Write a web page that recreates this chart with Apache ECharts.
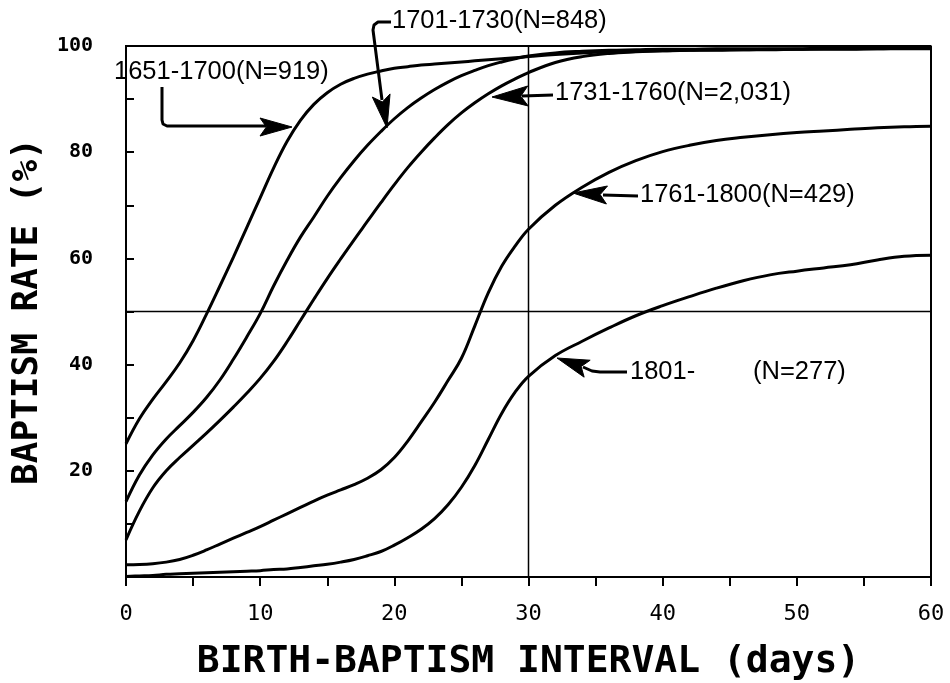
<!DOCTYPE html>
<html>
<head>
<meta charset="utf-8">
<script src="https://cdn.jsdelivr.net/npm/echarts@6/dist/echarts.min.js"></script>
<style>
html,body{margin:0;padding:0;background:#fff;}
#chart{width:950px;height:683px;}
</style>
</head>
<body>
<div id="chart"></div>
<script>
// ---- data ----
var days = [0,1,2,3,4,5,6,7,8,9,10,11,12,13,14,15,16,17,18,19,20,21,22,23,24,25,26,27,28,29,30,32,34,36,38,40,42,44,46,48,50,52,54,56,58,60];
var p1651_1700 = [25.1,29.8,33.5,36.8,40.3,44.5,49.5,54.8,60.2,65.8,71.4,77.0,82.0,86.0,89.0,91.2,92.8,93.9,94.7,95.3,95.8,96.1,96.4,96.6,96.8,97.0,97.2,97.4,97.6,97.8,98.0,98.4,98.7,98.9,99.0,99.1,99.2,99.2,99.3,99.3,99.4,99.4,99.4,99.5,99.5,99.5];
var p1701_1730 = [14.2,19.2,23.0,26.0,28.5,31.0,33.8,37.1,41.0,45.2,49.6,54.8,59.6,64.0,67.8,71.7,75.2,78.4,81.3,83.9,86.3,88.4,90.2,91.8,93.2,94.4,95.4,96.3,97.0,97.6,98.1,98.7,99.0,99.2,99.3,99.4,99.4,99.5,99.5,99.5,99.5,99.6,99.6,99.6,99.6,99.6];
var p1731_1760 = [7.0,12.4,16.8,20.0,22.5,24.8,27.1,29.5,32.0,34.6,37.4,40.6,44.3,48.3,52.3,56.2,59.9,63.5,67.0,70.5,73.9,77.1,80.0,82.7,85.2,87.4,89.3,91.0,92.5,93.8,95.0,96.9,98.0,98.6,98.9,99.1,99.2,99.3,99.3,99.4,99.4,99.5,99.5,99.5,99.6,99.6];
var p1761_1800 = [2.3,2.35,2.5,2.8,3.3,4.1,5.1,6.2,7.3,8.4,9.5,10.7,11.9,13.1,14.3,15.4,16.4,17.4,18.6,20.2,22.5,25.6,29.2,32.9,37.0,41.2,47.3,53.5,58.5,62.3,65.5,70.0,73.4,76.2,78.4,80.1,81.3,82.2,82.8,83.3,83.7,84.0,84.3,84.6,84.8,84.9];
var p1801 = [0.1,0.2,0.3,0.5,0.6,0.7,0.8,0.9,1.0,1.1,1.2,1.4,1.5,1.8,2.1,2.4,2.8,3.3,4.0,4.8,6.0,7.4,9.0,11.0,13.6,16.9,21.0,25.9,30.8,34.8,37.8,41.7,44.4,46.9,49.2,51.1,52.8,54.4,55.8,56.9,57.6,58.2,58.8,59.7,60.4,60.6];
var xTicks = [0,10,20,30,40,50,60];
var yTicks = [20,40,60,80,100];
var xTitle = 'BIRTH-BAPTISM INTERVAL (days)';
var yTitle = 'BAPTISM RATE (%)';

function pairs(xs, ys){ return xs.map(function(x,i){ return [x, ys[i]]; }); }

var chart = echarts.init(document.getElementById('chart'), null, {renderer:'canvas'});

var curveStyle = {color:'#000', width:3};
function curve(name, vals){
  return {name:name, type:'line', data:pairs(days, vals), smooth:0.4,
          symbol:'none', lineStyle:curveStyle, z:5, silent:true};
}
function frame(data, w){
  return {type:'line', data:data, symbol:'none', clip:false, silent:true,
          lineStyle:{color:'#000', width:w}, z:3};
}

var monoFont = '"DejaVu Sans Mono", "Liberation Mono", monospace';

var option = {
  backgroundColor:'#fff',
  animation:false,
  grid:{left:126, right:19, top:46, bottom:106, containLabel:false, outerBoundsMode:'none'},
  xAxis:{
    type:'value', min:0, max:60, interval:5,
    axisLine:{show:true, lineStyle:{color:'#000', width:2}},
    axisTick:{show:true, inside:false, length:9, lineStyle:{color:'#000', width:2}},
    splitLine:{show:false},
    axisLabel:{margin:26, color:'#000', fontFamily:monoFont, fontSize:22,
      formatter:function(v){ return xTicks.indexOf(v) >= 0 ? String(v) : ''; }},
    name:xTitle, nameLocation:'middle', nameGap:66,
    nameTextStyle:{color:'#000', fontFamily:monoFont, fontWeight:'bold', fontSize:38}
  },
  yAxis:{
    type:'value', min:0, max:100, interval:10, offset:18,
    axisLine:{show:true, lineStyle:{color:'#000', width:2}},
    axisTick:{show:true, inside:true, length:8, lineStyle:{color:'#000', width:2}},
    splitLine:{show:false},
    axisLabel:{margin:15, color:'#000', fontFamily:monoFont, fontWeight:'bold', fontSize:20,
      formatter:function(v){ return yTicks.indexOf(v) >= 0 ? String(v) : ''; }},
    name:yTitle, nameLocation:'middle', nameGap:50, nameRotate:90,
    nameTextStyle:{color:'#000', fontFamily:monoFont, fontWeight:'bold', fontSize:36}
  },
  series:[
    frame([[-0.45,100],[60,100],[60,0]], 2),
    frame([[-1.4,0],[61.5,0]], 2),
    frame([[-0.45,50],[60,50]], 1.5),
    frame([[30,0],[30,100]], 1.5),
    curve('1651-1700', p1651_1700),
    curve('1701-1730', p1701_1730),
    curve('1731-1760', p1731_1760),
    curve('1761-1800', p1761_1800),
    curve('1801-', p1801)
  ]
};
chart.setOption(option);

// ---- annotations (labels + arrows) ----
var labelFont = '25.5px "Liberation Sans", Arial, sans-serif';
function txt(s, x, y){
  return {type:'text', z:20, style:{text:s, x:x, y:y, font:labelFont, fill:'#000', textVerticalAlign:'middle', textAlign:'left'}};
}
function pl(points){
  return {type:'polyline', z:20, shape:{points:points}, style:{stroke:'#000', lineWidth:3, fill:null, lineJoin:'round'}};
}
function head(tip, from, len, hw){
  var dx = tip[0]-from[0], dy = tip[1]-from[1];
  var d = Math.sqrt(dx*dx+dy*dy); dx/=d; dy/=d;
  var bx = tip[0]-dx*len, by = tip[1]-dy*len;
  var nx = -dy, ny = dx;
  var mx = tip[0]-dx*len*0.8, my = tip[1]-dy*len*0.8;
  return {type:'polygon', z:21, shape:{points:[tip,[bx+nx*hw,by+ny*hw],[mx,my],[bx-nx*hw,by-ny*hw]]},
          style:{fill:'#000', stroke:'#000', lineWidth:1}};
}
var g = [
  txt('1651-1700(N=919)', 114, 72),
  pl([[162,87],[162,120],[163,124],[167,126],[266,126]]),
  head([292,127],[262,127],32,9),
  txt('1701-1730(N=848)', 392, 21),
  pl([[391,22],[378,22],[374,25],[373,30],[382,100]]),
  head([387,128],[382,100],33,9),
  txt('1731-1760(N=2,031)', 555, 93),
  pl([[553,95],[522,96]]),
  head([492,97],[528,96],36,10),
  txt('1761-1800(N=429)', 640, 195),
  pl([[638,196],[603,195]]),
  head([573,193],[607,195],34,9),
  txt('1801-', 630, 372),
  txt('(N=277)', 753, 372),
  pl([[627,372],[600,372],[592,371],[583,367]]),
  head([557,358],[588,369],32,9)
];
chart.setOption({graphic:{elements:g}});
</script>
</body>
</html>
